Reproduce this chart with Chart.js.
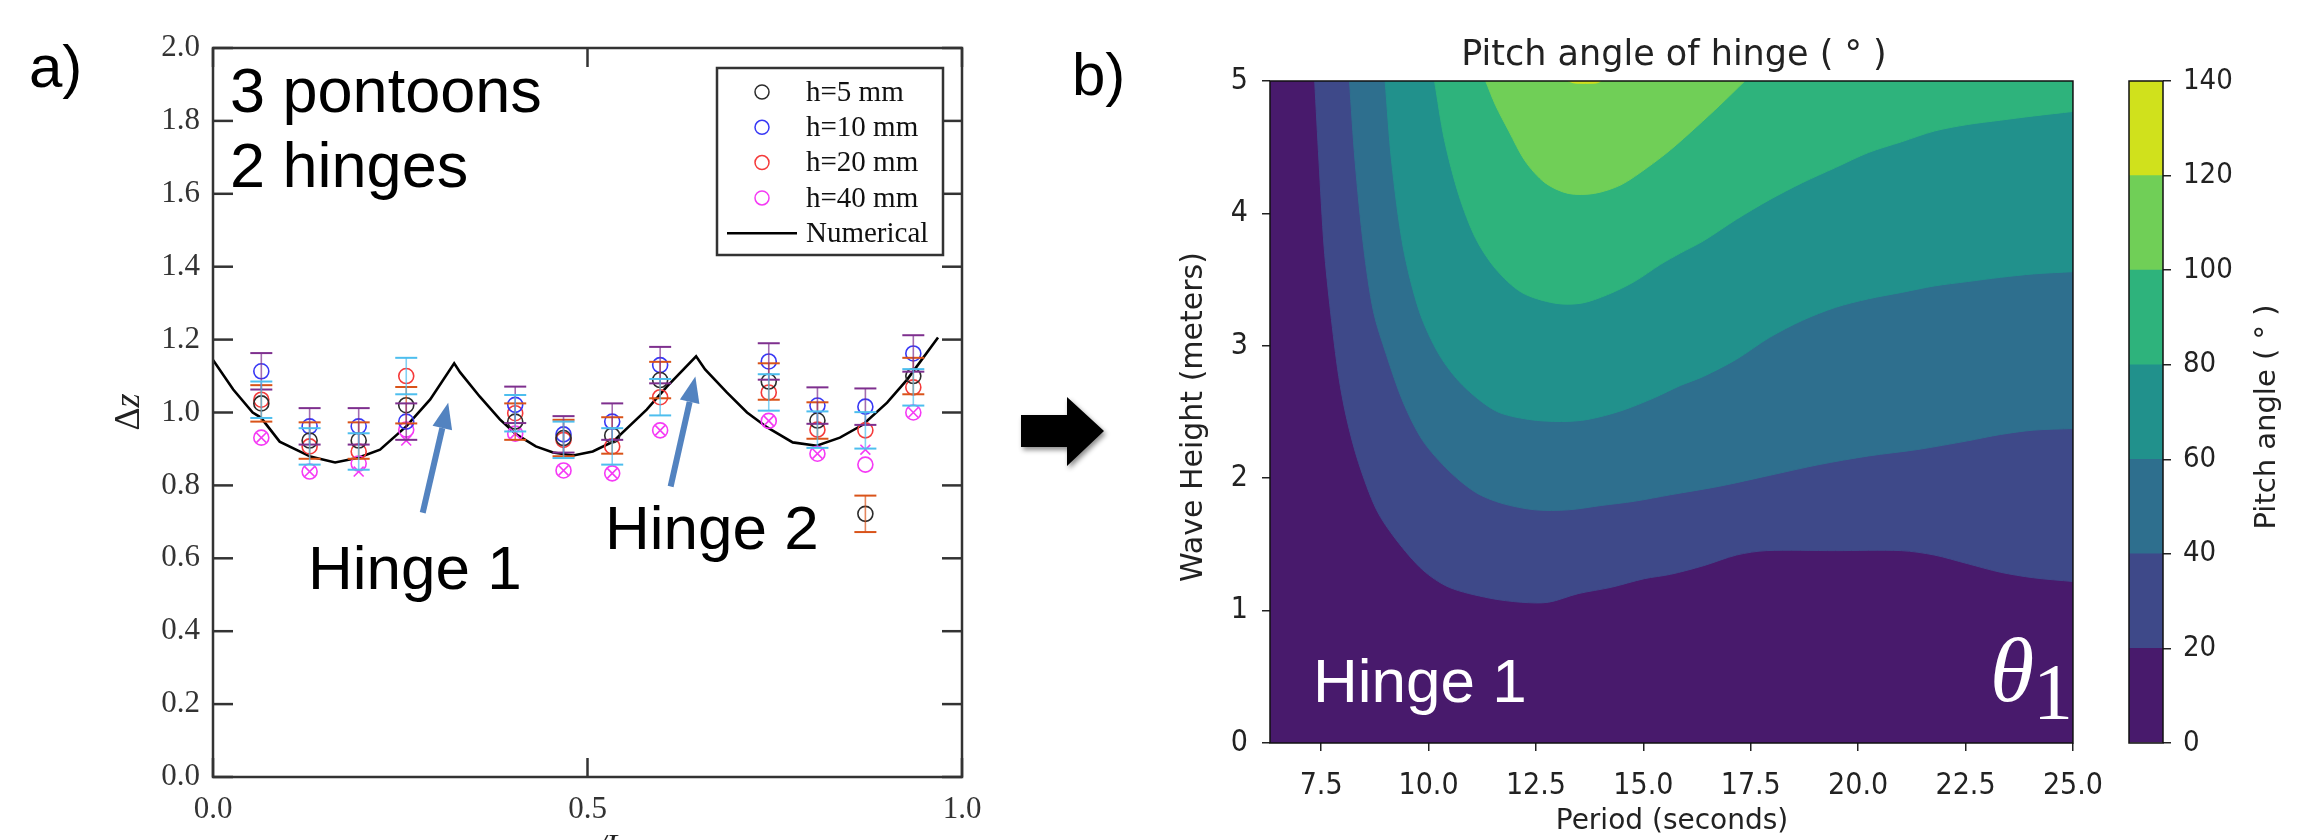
<!DOCTYPE html>
<html><head><meta charset="utf-8">
<script src="https://cdn.jsdelivr.net/npm/chart.js@4.4.1/dist/chart.umd.min.js"></script>
<style>
html,body{margin:0;padding:0;background:#fff;width:2320px;height:840px;overflow:hidden;}
canvas{position:absolute;top:0;}
</style></head><body>
<canvas id="cA" width="1000" height="840" style="left:0"></canvas>
<canvas id="cB" width="1120" height="840" style="left:1000px"></canvas>
<canvas id="cC" width="200" height="840" style="left:2120px"></canvas>
<script>
// ---------- Panel a) data ----------
const xPos  = [0.0645,0.129,0.1945,0.258,0.4035,0.468,0.533,0.597,0.742,0.807,0.871,0.935];
const h5    = [1.025,0.923,0.923,1.020,0.975,0.930,0.937,1.089,1.085,0.978,0.722,1.100];
const h10   = [1.113,0.962,0.962,0.975,1.021,0.940,0.975,1.130,1.140,1.019,1.016,1.162];
const h20   = [1.035,0.907,0.893,1.100,0.998,0.925,0.907,1.042,1.055,0.953,0.951,1.069];
const h40   = [0.931,0.838,0.860,0.953,0.942,0.841,0.833,0.951,0.977,0.887,0.857,1.000];
const h40x  = [0.931,0.838,0.838,0.923,0.942,0.841,0.833,0.951,0.977,0.887,0.898,1.000];
const err5  = [0.05,0.05,0.05,0.05,0.05,0.05,0.05,0.05,0.05,0.05,0.05,0.05];
const err10 = [0.05,0.05,0.05,0.05,0.05,0.05,0.05,0.05,0.05,0.05,0.05,0.05];
const err20 = [0.05,0.05,0.05,0.05,0.05,0.05,0.05,0.05,0.05,0.05,0.05,0.05];
const numX  = [0,0.027,0.053,0.064,0.089,0.13,0.163,0.194,0.223,0.258,0.29,0.322,0.33,0.356,0.383,0.405,0.431,0.454,0.481,0.507,0.534,0.579,0.606,0.645,0.657,0.686,0.713,0.74,0.774,0.806,0.837,0.868,0.9,0.927,0.968];
const numY  = [1.144,1.063,1.0,0.986,0.92,0.879,0.863,0.876,0.898,0.962,1.036,1.135,1.11,1.044,0.981,0.94,0.907,0.89,0.882,0.893,0.92,1.008,1.071,1.154,1.118,1.055,1.0,0.959,0.918,0.909,0.931,0.967,1.027,1.091,1.206];
const xTicksA = [0,0.5,1.0];
const yTicksA = [0,0.2,0.4,0.6,0.8,1.0,1.2,1.4,1.6,1.8,2.0];
const seriesLabels = ['h=5 mm','h=10 mm','h=20 mm','h=40 mm','Numerical'];

// ---------- Panel b) data (contour boundaries: period T, wave height H) ----------
const levels = [0,20,40,60,80,100,120,140];
const b20T = [7.35,7.45,7.57,7.72,7.91,8.10,8.37,8.79,9.25,9.87,10.48,11.41,12.17,12.79,13.48,14.25,15.02,15.63,16.40,17.17,17.86,19.47,21.01,21.77,22.54,23.31,24.08,25.0];
const b20H = [5.0,4.395,3.745,3.257,2.769,2.444,2.119,1.761,1.534,1.306,1.176,1.095,1.063,1.063,1.128,1.176,1.241,1.274,1.339,1.42,1.453,1.453,1.453,1.42,1.355,1.29,1.248,1.22];
const b40T = [8.16,8.29,8.49,8.72,9.02,9.41,9.87,10.48,11.10,11.71,12.48,13.25,14.02,14.79,15.63,16.78,17.93,19.09,20.24,21.39,22.54,23.31,24.08,25.0];
const b40H = [5.0,4.395,3.745,3.257,2.932,2.574,2.282,2.054,1.892,1.81,1.761,1.761,1.794,1.826,1.875,1.94,2.021,2.103,2.168,2.217,2.282,2.33,2.363,2.375];
const b60T = [8.99,9.14,9.41,9.79,10.25,10.79,11.56,12.33,13.10,13.71,14.48,15.25,15.86,16.40,17.17,17.93,18.70,19.47,20.24,21.01,21.77,22.54,23.31,24.08,25.0];
const b60H = [5.0,4.395,3.745,3.257,2.932,2.704,2.509,2.444,2.428,2.444,2.509,2.607,2.70,2.769,2.899,3.062,3.192,3.29,3.355,3.403,3.452,3.485,3.517,3.543,3.56];
const b80T = [10.14,10.37,10.71,11.10,11.56,12.17,12.94,13.56,14.17,14.79,15.40,15.86,16.40,17.17,17.93,18.70,19.47,20.24,21.01,21.77,22.54,23.31,24.08,25.0];
const b80H = [5.0,4.557,4.135,3.81,3.582,3.403,3.322,3.322,3.387,3.485,3.615,3.70,3.793,3.956,4.102,4.232,4.346,4.46,4.541,4.622,4.671,4.704,4.736,4.77];
const b100T = [11.33,11.56,11.87,12.25,12.71,13.25,13.86,14.48,15.09,15.63,16.24,16.78,17.36];
const b100H = [5.0,4.817,4.622,4.395,4.232,4.151,4.151,4.216,4.346,4.48,4.655,4.817,5.0];
const b120T = [13.25,13.4,13.9,14.02];
const b120H = [5.0,4.985,4.985,5.0];
const xTicksB = [7.5,10,12.5,15,17.5,20,22.5,25];
const yTicksB = [0,1,2,3,4,5];

// ---------- styles ----------
const SERIF = "'Liberation Serif','Times New Roman',serif";
const SANS  = "'Liberation Sans',Arial,sans-serif";
const COND  = "'DejaVu Sans Condensed','Liberation Sans Narrow','DejaVu Sans',sans-serif";
const DJV   = "'DejaVu Sans',sans-serif";
const C5='#2b2b2b', C10='#3838f5', C20='#f53a3a', C40='#f53af5';
const bandColors = ['#481a6c','#3e4989','#2e6f8e','#21918c','#2eb37c','#70cf57','#d0e11c'];
const pts = (xs, ys) => xs.map((x,i)=>({x:x, y:ys[i]}));

function seg(ctx,x1,y1,x2,y2){ctx.beginPath();ctx.moveTo(x1,y1);ctx.lineTo(x2,y2);ctx.stroke();}

// ---------- plugins for panel a ----------
const errorBars = {id:'errorBars', afterDatasetsDraw(chart){
  const {ctx} = chart; const xs = chart.scales.x, ys = chart.scales.y;
  chart.data.datasets.forEach(ds=>{
    if(!ds.errors) return;
    ctx.save(); ctx.strokeStyle = ds.errColor;
    ds.data.forEach((p,i)=>{
      const px = xs.getPixelForValue(p.x);
      const yt = ys.getPixelForValue(p.y + ds.errors[i]);
      const yb = ys.getPixelForValue(p.y - ds.errors[i]);
      ctx.globalAlpha = 0.7; ctx.lineWidth = 1.6; seg(ctx,px,yt,px,yb);
      ctx.globalAlpha = 1; ctx.lineWidth = 2;
      seg(ctx,px-11,yt,px+11,yt); seg(ctx,px-11,yb,px+11,yb);
    });
    ctx.restore();
  });
}};

function arrow(ctx, x1,y1,x2,y2, color, w, hl, hw){
  const a = Math.atan2(y2-y1,x2-x1);
  const bx = x2 - hl*Math.cos(a), by = y2 - hl*Math.sin(a);
  ctx.save(); ctx.strokeStyle=color; ctx.fillStyle=color; ctx.lineWidth=w; ctx.lineCap='butt';
  seg(ctx,x1,y1,bx,by);
  ctx.beginPath(); ctx.moveTo(x2,y2);
  ctx.lineTo(bx + hw*Math.sin(a), by - hw*Math.cos(a));
  ctx.lineTo(bx - hw*Math.sin(a), by + hw*Math.cos(a));
  ctx.closePath(); ctx.fill(); ctx.restore();
}

const decorA = {id:'decorA', afterDraw(chart){
  const {ctx, chartArea:ca} = chart; const xs = chart.scales.x, ys = chart.scales.y;
  ctx.save();
  ctx.strokeStyle = '#333'; ctx.lineWidth = 2.5;
  ctx.strokeRect(ca.left, ca.top, ca.right-ca.left, ca.bottom-ca.top);
  yTicksA.forEach(v=>{ const y = ys.getPixelForValue(v);
    seg(ctx,ca.left,y,ca.left+20,y); seg(ctx,ca.right-20,y,ca.right,y); });
  xTicksA.forEach(v=>{ const x = xs.getPixelForValue(v);
    seg(ctx,x,ca.top,x,ca.top+19); seg(ctx,x,ca.bottom-19,x,ca.bottom); });
  // legend
  ctx.lineWidth = 2.5; ctx.strokeStyle='#333';
  ctx.strokeRect(717,68,226,187);
  const cols=[C5,C10,C20,C40];
  ctx.font = '29px '+SERIF; ctx.textBaseline='middle'; ctx.fillStyle='#111';
  for(let i=0;i<5;i++){
    const y = 92 + i*35.3;
    if(i<4){ ctx.strokeStyle=cols[i]; ctx.lineWidth=1.5; ctx.beginPath(); ctx.arc(762,y,7,0,2*Math.PI); ctx.stroke(); }
    else { ctx.strokeStyle='#000'; ctx.lineWidth=2.5; seg(ctx,727,y,797,y); }
    ctx.fillText(seriesLabels[i], 806, y+1);
  }
  // annotations
  ctx.fillStyle='#000'; ctx.textBaseline='alphabetic'; ctx.textAlign='left';
  ctx.font = '63px '+SANS;
  ctx.fillText('3 pontoons', 230, 112);
  ctx.fillText('2 hinges', 230, 187);
  ctx.font = '62px '+SANS;
  ctx.fillText('Hinge 1', 308, 589);
  ctx.fillText('Hinge 2', 605, 549);
  ctx.font = '60px '+SANS;
  ctx.fillText('a)', 29, 87);
  arrow(ctx, xs.getPixelForValue(0.280), ys.getPixelForValue(0.725), xs.getPixelForValue(0.314), ys.getPixelForValue(1.027), '#5383c0', 6, 26, 10);
  arrow(ctx, xs.getPixelForValue(0.611), ys.getPixelForValue(0.797), xs.getPixelForValue(0.644), ys.getPixelForValue(1.099), '#5383c0', 6, 26, 10);
  // y title (Δz, z italic)
  ctx.save(); ctx.translate(130,412); ctx.rotate(-Math.PI/2);
  ctx.textBaseline='middle';
  ctx.font = '36px '+SERIF; const wD = ctx.measureText('Δ').width;
  ctx.font = 'italic 36px '+SERIF; const wz = ctx.measureText('z').width;
  ctx.fillStyle='#222';
  ctx.font = '36px '+SERIF; ctx.fillText('Δ', -(wD+wz)/2, 0);
  ctx.font = 'italic 36px '+SERIF; ctx.fillText('z', -(wD+wz)/2 + wD, 0);
  ctx.restore();
  // x title (cut by the page edge)
  ctx.font = 'italic 32px '+SERIF; ctx.textAlign='center'; ctx.fillStyle='#222';
  ctx.fillText('x/L', xs.getPixelForValue(0.5)+16, 856);
  ctx.restore();
}};

new Chart(document.getElementById('cA'), {
  type:'scatter',
  data:{datasets:[
    {label:seriesLabels[0], data:pts(xPos,h5),  borderColor:C5,  backgroundColor:'rgba(0,0,0,0)', pointRadius:7.5, borderWidth:1.6, pointBorderWidth:1.6, errors:err5,  errColor:'#D95319'},
    {label:seriesLabels[1], data:pts(xPos,h10), borderColor:C10, backgroundColor:'rgba(0,0,0,0)', pointRadius:7.5, borderWidth:1.6, pointBorderWidth:1.6, errors:err10, errColor:'#7E2F8E'},
    {label:seriesLabels[2], data:pts(xPos,h20), borderColor:C20, backgroundColor:'rgba(0,0,0,0)', pointRadius:7.5, borderWidth:1.6, pointBorderWidth:1.6, errors:err20, errColor:'#4DBEEE'},
    {label:seriesLabels[3], data:pts(xPos,h40), borderColor:C40, backgroundColor:'rgba(0,0,0,0)', pointRadius:7.5, borderWidth:1.6, pointBorderWidth:1.6},
    {label:'h=40 mm (x)', data:pts(xPos,h40x), pointStyle:'crossRot', borderColor:C40, pointRadius:7, borderWidth:1.6, pointBorderWidth:1.6},
    {label:seriesLabels[4], data:pts(numX,numY), showLine:true, pointRadius:0, borderColor:'#000', borderWidth:2.6, tension:0}
  ]},
  options:{
    responsive:false, animation:false, events:[],
    layout:{padding:{top:48,right:38,left:0,bottom:0}},
    plugins:{legend:{display:false}, tooltip:{enabled:false}},
    scales:{
      x:{type:'linear', min:0, max:1, afterFit:s=>{s.height=63;},
         afterBuildTicks:s=>{s.ticks=xTicksA.map(v=>({value:v}));},
         grid:{display:false, drawTicks:false}, border:{display:false},
         ticks:{padding:14, color:'#333', font:{family:SERIF,size:31}, maxRotation:0, autoSkip:false, callback:v=>Number(v).toFixed(1)}},
      y:{type:'linear', min:0, max:2, afterFit:s=>{s.width=213;},
         afterBuildTicks:s=>{s.ticks=yTicksA.map(v=>({value:v}));},
         grid:{display:false, drawTicks:false}, border:{display:false},
         ticks:{padding:13, color:'#333', font:{family:SERIF,size:31}, autoSkip:false, callback:v=>Number(v).toFixed(1)}}
    }
  },
  plugins:[errorBars, decorA]
});

// ---------- panel b ----------
const bounds = [[b20T,b20H],[b40T,b40H],[b60T,b60H],[b80T,b80H],[b100T,b100H],[b120T,b120H]];
const decorB = {id:'decorB',
  beforeDatasetsDraw(chart){
    const {ctx, chartArea:ca} = chart;
    ctx.save(); ctx.fillStyle = bandColors[0];
    ctx.fillRect(ca.left, ca.top, ca.right-ca.left, ca.bottom-ca.top); ctx.restore();
  },
  afterDraw(chart){
    const {ctx, chartArea:ca} = chart;
    ctx.save();
    ctx.strokeStyle='#111'; ctx.lineWidth=1.5;
    ctx.strokeRect(ca.left, ca.top, ca.right-ca.left, ca.bottom-ca.top);
    // in-plot labels
    ctx.fillStyle='#fff'; ctx.textBaseline='alphabetic'; ctx.textAlign='left';
    ctx.font='62px '+SANS; ctx.fillText('Hinge 1', 313, 702);
    ctx.font='italic 90px '+SERIF; ctx.fillText('θ', 990, 701);
    ctx.font='80px '+SERIF; ctx.fillText('1', 1033, 719);
    // titles
    ctx.fillStyle='#222'; ctx.textAlign='center';
    ctx.textBaseline='alphabetic';
    ctx.font='35px '+DJV; ctx.fillText('Pitch angle of hinge ( ° )', 674, 65);
    ctx.textBaseline='middle';
    ctx.font='28px '+DJV; ctx.fillText('Period (seconds)', 672, 822);
    ctx.save(); ctx.translate(194, 417); ctx.rotate(-Math.PI/2);
    ctx.font='30px '+DJV; ctx.fillText('Wave Height (meters)', 0, 0); ctx.restore();
    // panel label
    ctx.fillStyle='#000'; ctx.textAlign='left'; ctx.textBaseline='alphabetic';
    ctx.font='60px '+SANS; ctx.fillText('b)', 72, 95);
    // big black arrow
    ctx.shadowColor='rgba(0,0,0,0.45)'; ctx.shadowBlur=5; ctx.shadowOffsetX=2; ctx.shadowOffsetY=3;
    ctx.fillStyle='#000'; ctx.beginPath();
    ctx.moveTo(21,415); ctx.lineTo(67,415); ctx.lineTo(67,397); ctx.lineTo(104,431);
    ctx.lineTo(67,466); ctx.lineTo(67,447); ctx.lineTo(21,447); ctx.closePath(); ctx.fill();
    ctx.restore();
  }
};

new Chart(document.getElementById('cB'), {
  type:'scatter',
  data:{datasets: bounds.map((b,i)=>({
    label:'≥ '+levels[i+1], data:pts(b[0],b[1]), showLine:true, pointRadius:0,
    borderWidth:1, borderColor:bandColors[i+1], backgroundColor:bandColors[i+1],
    fill:'end', tension:0.3, order:10-i }))},
  options:{
    responsive:false, animation:false, events:[],
    layout:{padding:{top:81,right:38,left:0,bottom:0}},
    plugins:{legend:{display:false}, tooltip:{enabled:false}},
    scales:{
      x:{type:'linear', min:6.31, max:25, afterFit:s=>{s.height=97;},
         afterBuildTicks:s=>{s.ticks=xTicksB.map(v=>({value:v}));},
         grid:{display:true, drawOnChartArea:false, drawTicks:true, tickLength:8, color:'#222', lineWidth:1.5},
         border:{display:false},
         ticks:{padding:17, color:'#222', font:{family:COND,size:30}, maxRotation:0, autoSkip:false, callback:v=>Number(v).toFixed(1)}},
      y:{type:'linear', min:0, max:5, afterFit:s=>{s.width=270;},
         afterBuildTicks:s=>{s.ticks=yTicksB.map(v=>({value:v}));},
         grid:{display:true, drawOnChartArea:false, drawTicks:true, tickLength:8, color:'#222', lineWidth:1.5},
         border:{display:false},
         ticks:{padding:14, color:'#222', font:{family:COND,size:30}, autoSkip:false, callback:v=>String(v)}}
    }
  },
  plugins:[decorB]
});

// ---------- colorbar ----------
const decorC = {id:'decorC', afterDraw(chart){
  const {ctx, chartArea:ca} = chart;
  ctx.save(); ctx.strokeStyle='#111'; ctx.lineWidth=1.5;
  ctx.strokeRect(ca.left, ca.top, ca.right-ca.left, ca.bottom-ca.top);
  ctx.translate(147, 417); ctx.rotate(-Math.PI/2);
  ctx.fillStyle='#222'; ctx.textAlign='center'; ctx.textBaseline='middle';
  ctx.font='29px '+DJV; ctx.fillText('Pitch angle ( ° )', 0, 0);
  ctx.restore();
}};
new Chart(document.getElementById('cC'), {
  type:'bar',
  data:{labels:[''], datasets: bandColors.map((c,i)=>({label:levels[i]+'–'+levels[i+1], data:[levels[i+1]-levels[i]], backgroundColor:c, borderWidth:0, barPercentage:1, categoryPercentage:1}))},
  options:{
    responsive:false, animation:false, events:[],
    layout:{padding:{top:81,left:9,bottom:97,right:0}},
    plugins:{legend:{display:false}, tooltip:{enabled:false}},
    scales:{
      x:{display:false, stacked:true},
      y:{stacked:true, position:'right', min:0, max:140, afterFit:s=>{s.width=157;},
         afterBuildTicks:s=>{s.ticks=levels.map(v=>({value:v}));},
         grid:{display:true, drawOnChartArea:false, drawTicks:true, tickLength:8, color:'#222', lineWidth:1.5},
         border:{display:false},
         ticks:{padding:12, color:'#222', font:{family:COND,size:29}, autoSkip:false, callback:v=>String(v)}}
    }
  },
  plugins:[decorC]
});
</script>
</body></html>
